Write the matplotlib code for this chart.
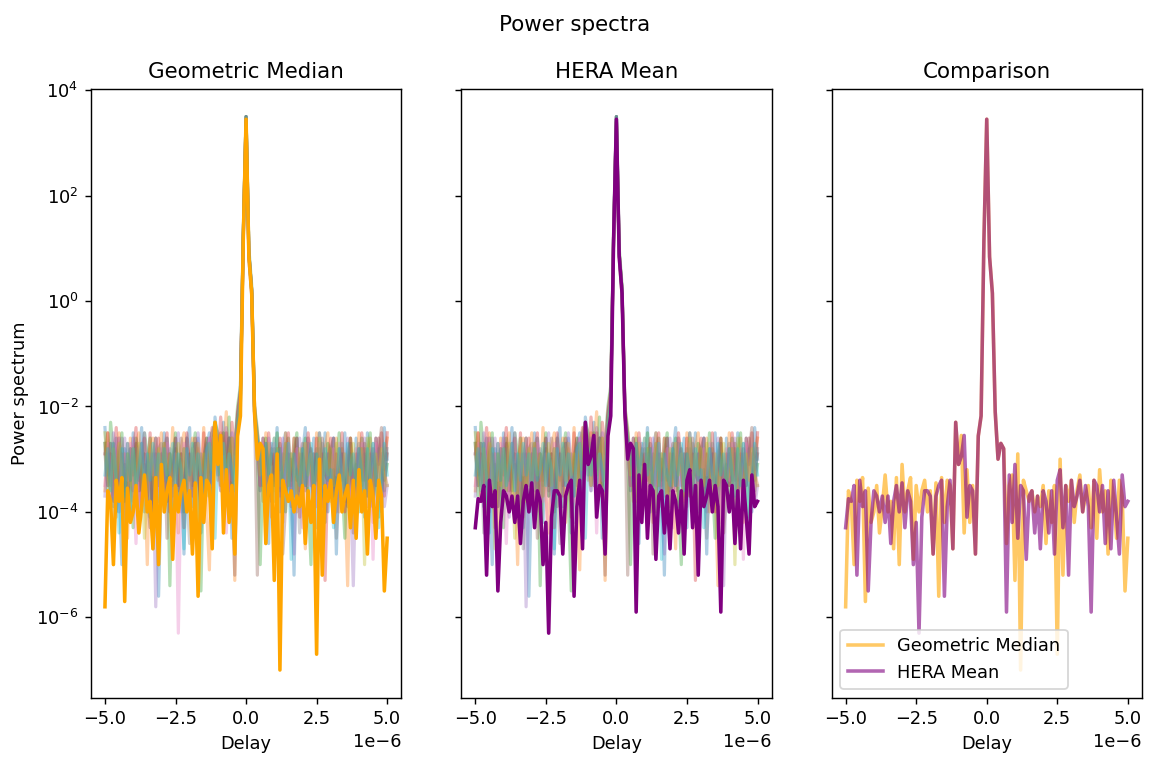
import numpy as np
import matplotlib
matplotlib.use("Agg")
import matplotlib.pyplot as plt

N_DELAYS = 101
delays = np.linspace(-5e-6, 5e-6, N_DELAYS)

# log10 of the power spectrum, one value per delay bin
gm_log10 = [
    -5.8, -3.6, -3.8, -5.0, -3.4, -3.8, -3.35, -5.7, -3.55, -4.2,
    -4.0, -3.5, -4.4, -3.9, -3.3, -4.0, -3.8, -4.7, -3.35, -5.0,
    -3.1, -4.0, -3.6, -3.35, -4.9, -3.5, -4.0, -3.6, -3.4, -4.0,
    -3.6, -4.8, -3.45, -5.6, -3.35, -4.2, -3.4, -3.5, -4.7, -2.3,
    -3.1, -2.55, -4.4, -3.2, -4.2, -3.5, -4.8, -2.56, -2.18, 1.15,
    3.45, 0.84, 0.15, -2.1, -3.0, -2.7, -2.8, -4.6, -3.5, -3.3,
    -5.3, -2.9, -7.0, -3.4, -3.6, -3.8, -3.6, -4.0, -3.7, -3.9,
    -3.5, -4.6, -3.6, -4.2, -3.5, -6.7, -3.0, -5.2, -3.5, -3.8,
    -3.4, -4.2, -3.6, -3.3, -4.0, -3.7, -3.5, -4.3, -3.4, -4.5,
    -3.2, -4.0, -3.6, -4.8, -3.4, -3.7, -4.5, -3.4, -3.7, -5.5,
    -4.5,
]

hera_log10 = [
    -4.3, -3.75, -3.8, -3.5, -5.2, -3.4, -3.9, -3.6, -5.5, -4.2,
    -3.6, -3.7, -4.0, -3.7, -4.2, -3.7, -4.6, -3.8, -3.5, -4.0,
    -3.45, -4.3, -3.6, -3.8, -5.0, -4.2, -6.3, -4.1, -3.6, -3.6,
    -3.7, -4.8, -3.7, -3.5, -3.4, -5.6, -3.9, -3.4, -4.7, -2.3,
    -3.1, -2.95, -2.55, -4.1, -3.5, -3.6, -4.8, -2.56, -2.18, 1.15,
    3.45, 0.84, 0.15, -2.1, -3.0, -2.7, -2.8, -5.9, -3.3, -4.2,
    -3.1, -4.5, -3.5, -3.6, -4.9, -3.7, -3.6, -4.4, -3.7, -4.7,
    -3.6, -3.8, -4.4, -3.6, -4.8, -3.4, -3.2, -4.3, -3.5, -5.2,
    -3.4, -3.9, -3.7, -3.4, -4.0, -3.5, -3.9, -5.9, -3.4, -3.5,
    -4.0, -3.5, -4.6, -3.6, -4.7, -3.4, -4.1, -4.8, -3.3, -3.9,
    -3.8,
]

# individual baseline spectra
bl0 = [
    -2.4, -3.3, -2.7, -3.9, -2.6, -3.5, -5.0, -2.8, -3.4, -4.1,
    -2.5, -3.6, -3.0, -2.4, -4.0, -3.1, -2.6, -4.3, -2.9, -5.6,
    -3.3, -2.5, -3.8, -2.9, -4.2, -2.6, -3.5, -3.0, -4.8, -2.7,
    -2.4, -3.9, -3.1, -2.6, -4.4, -3.3, -2.8, -2.5, -3.9, -2.2,
    -2.7, -3.6, -2.3, -3.8, -2.6, -4.5, -3.0, -2.2, -1.7, 1.2,
    3.5, 0.9, 0.2, -2.0, -2.5, -3.6, -2.6, -3.1, -4.6, -2.7,
    -3.5, -2.4, -4.0, -2.8, -2.5, -3.8, -3.0, -5.2, -2.6, -3.6,
    -2.9, -2.4, -3.9, -3.3, -2.6, -4.3, -2.8, -3.6, -2.5, -4.0,
    -3.0, -2.6, -4.8, -2.8, -3.4, -2.5, -3.9, -2.9, -3.7, -2.6,
    -3.5, -2.8, -4.1, -2.5, -3.1, -3.9, -2.6, -3.4, -4.0, -2.4,
    -3.0,
]
bl1 = [
    -3.6, -2.5, -3.2, -2.7, -4.1, -2.5, -3.6, -2.9, -4.5, -2.6,
    -3.8, -2.8, -2.5, -3.9, -3.1, -5.0, -2.8, -2.6, -3.6, -3.1,
    -2.5, -4.0, -2.9, -3.4, -2.4, -3.7, -4.4, -2.8, -2.5, -3.6,
    -3.0, -2.6, -4.2, -2.8, -3.4, -2.4, -3.9, -5.1, -2.8, -2.3,
    -3.4, -2.5, -2.9, -2.1, -3.6, -2.6, -5.3, -2.2, -1.8, 1.1,
    3.4, 0.8, 0.1, -2.2, -2.5, -2.9, -3.8, -2.5, -3.2, -4.1,
    -2.6, -3.4, -2.8, -4.2, -2.5, -3.1, -3.6, -2.6, -4.0, -2.9,
    -3.3, -4.7, -2.6, -2.9, -3.8, -2.5, -3.1, -3.9, -2.8, -2.5,
    -3.8, -3.1, -2.6, -4.0, -2.8, -3.5, -5.4, -2.6, -3.2, -3.4,
    -2.5, -3.9, -2.8, -3.4, -2.6, -4.2, -3.1, -2.6, -3.6, -2.9,
    -2.6,
]
bl2 = [
    -2.7, -3.7, -2.3, -2.9, -4.0, -3.1, -2.5, -3.8, -2.9, -3.4,
    -4.3, -2.6, -3.1, -3.6, -2.5, -2.9, -4.1, -3.3, -2.6, -3.8,
    -2.9, -3.4, -2.6, -5.4, -3.1, -2.5, -3.7, -2.9, -4.0, -2.6,
    -3.4, -2.9, -2.5, -3.8, -5.5, -3.1, -2.6, -3.7, -2.5, -2.3,
    -2.5, -3.0, -2.5, -3.3, -2.2, -3.5, -2.7, -2.0, -1.6, 1.3,
    3.5, 1.0, 0.3, -2.1, -2.9, -5.0, -3.1, -2.6, -3.7, -2.9,
    -3.8, -2.5, -3.2, -2.9, -4.0, -2.6, -3.4, -2.9, -2.5, -3.9,
    -3.1, -2.6, -3.7, -5.0, -2.9, -3.4, -2.5, -3.2, -4.2, -2.7,
    -2.9, -3.9, -3.1, -2.5, -3.4, -4.5, -2.9, -2.6, -3.7, -3.1,
    -4.0, -2.6, -3.4, -2.9, -2.5, -3.8, -3.1, -4.1, -2.9, -3.4,
    -3.1,
]
bl3 = [
    -2.9, -2.5, -3.8, -3.1, -2.4, -3.6, -2.9, -4.3, -2.7, -3.4,
    -2.9, -2.4, -4.0, -3.1, -2.6, -3.7, -2.5, -4.1, -2.9, -2.6,
    -3.7, -2.9, -2.5, -4.0, -3.1, -2.6, -3.5, -2.9, -4.3, -2.5,
    -3.1, -3.7, -2.6, -2.9, -4.1, -2.5, -3.5, -2.9, -2.4, -2.6,
    -3.1, -2.2, -2.9, -2.5, -3.7, -2.3, -2.9, -2.1, -1.7, 1.2,
    3.5, 0.9, 0.2, -2.0, -2.7, -3.5, -2.6, -3.8, -2.5, -3.1,
    -2.9, -4.0, -2.6, -3.5, -2.9, -2.5, -3.9, -3.1, -2.6, -4.1,
    -2.9, -3.5, -2.5, -3.1, -4.0, -2.6, -3.7, -2.9, -5.3, -3.1,
    -2.6, -3.7, -2.9, -3.5, -2.5, -4.0, -3.1, -2.6, -3.8, -2.9,
    -3.5, -2.5, -3.1, -3.9, -2.9, -3.7, -2.6, -3.1, -2.5, -3.7,
    -2.5,
]
bl4 = [
    -3.7, -2.9, -3.5, -2.5, -3.1, -4.0, -2.9, -2.6, -3.9, -3.1,
    -2.6, -3.5, -4.1, -2.9, -2.5, -3.7, -3.1, -2.9, -5.8, -3.5,
    -2.9, -3.9, -2.6, -3.1, -3.7, -2.9, -2.5, -4.0, -3.5, -2.6,
    -3.9, -2.9, -3.5, -2.5, -3.1, -4.2, -2.9, -2.6, -3.7, -2.5,
    -2.9, -2.6, -3.5, -2.4, -2.9, -2.5, -3.1, -2.2, -1.8, 1.1,
    3.4, 0.8, 0.1, -2.1, -2.5, -3.1, -2.9, -3.9, -2.6, -3.5,
    -3.1, -2.9, -3.7, -2.6, -3.5, -2.9, -4.0, -4.8, -2.9, -2.6,
    -3.7, -3.1, -2.6, -3.5, -2.9, -3.9, -2.5, -3.1, -3.7, -2.9,
    -3.5, -2.6, -4.0, -3.1, -2.9, -3.7, -2.6, -3.5, -5.4, -3.1,
    -2.9, -3.7, -2.6, -3.1, -3.9, -2.9, -3.5, -2.6, -3.1, -3.9,
    -3.5,
]
bl5 = [
    -2.7, -3.5, -2.9, -3.8, -3.0, -2.6, -3.4, -3.1, -3.9, -2.8,
    -3.3, -2.7, -3.6, -3.2, -2.9, -3.7, -4.3, -3.0, -2.6, -3.5,
    -3.1, -2.7, -4.5, -2.9, -3.4, -2.8, -3.6, -2.6, -3.2, -3.9,
    -2.9, -3.5, -2.7, -3.3, -3.8, -3.0, -2.6, -3.6, -3.1, -2.5,
    -3.0, -3.5, -2.7, -3.2, -2.6, -3.4, -5.2, -2.3, -1.9, 1.2,
    3.5, 0.9, 0.2, -2.0, -5.2, -2.8, -3.5, -2.7, -3.3, -3.8,
    -2.8, -3.4, -2.7, -4.8, -3.9, -2.9, -3.5, -2.6, -3.4, -3.1,
    -2.7, -3.6, -3.2, -2.8, -3.5, -2.9, -3.7, -2.6, -3.3, -3.4,
    -2.8, -2.6, -3.6, -3.2, -2.9, -3.8, -3.3, -2.7, -4.4, -3.6,
    -2.8, -3.4, -2.7, -3.7, -3.1, -2.8, -3.5, -2.9, -2.4, -3.2,
    -2.9,
]
bl6 = [
    -3.5, -2.7, -3.2, -3.7, -2.8, -2.6, -3.6, -2.9, -3.4, -2.7,
    -3.3, -4.6, -2.8, -2.7, -3.4, -3.9, -2.9, -3.3, -2.6, -3.6,
    -2.8, -3.4, -2.7, -3.2, -3.8, -2.9, -6.3, -3.3, -2.7, -3.2,
    -3.7, -2.8, -3.4, -2.7, -3.2, -3.8, -2.9, -2.6, -3.5, -2.9,
    -3.3, -3.6, -2.7, -4.4, -2.9, -3.4, -2.8, -2.3, -1.8, 1.2,
    3.4, 0.9, 0.2, -2.2, -2.8, -3.5, -2.7, -3.3, -3.6, -2.8,
    -2.7, -3.6, -3.2, -2.8, -3.5, -2.7, -3.8, -3.2, -2.8, -3.6,
    -4.3, -2.7, -3.5, -2.9, -3.8, -3.2, -2.7, -3.6, -2.9, -3.4,
    -3.7, -2.8, -3.3, -2.7, -3.6, -2.9, -3.4, -4.2, -3.1, -2.8,
    -3.4, -2.7, -3.7, -3.2, -2.8, -4.9, -2.7, -3.4, -2.9, -3.2,
    -3.5,
]
bl7 = [
    -2.9, -3.5, -2.7, -4.4, -3.2, -2.9, -2.6, -3.6, -3.2, -2.8,
    -3.6, -2.8, -3.4, -2.7, -3.2, -3.8, -2.9, -4.7, -3.4, -2.8,
    -2.7, -3.6, -3.2, -2.8, -3.5, -2.7, -3.7, -3.1, -2.8, -3.6,
    -4.6, -3.4, -2.7, -3.3, -2.9, -3.7, -2.7, -3.4, -2.9, -2.6,
    -3.3, -2.7, -3.5, -2.9, -2.6, -3.4, -2.9, -2.4, -2.0, 1.2,
    3.5, 0.9, 0.2, -2.1, -2.7, -3.5, -2.9, -3.7, -3.2, -2.8,
    -3.4, -2.8, -3.6, -3.2, -2.7, -3.5, -2.9, -3.7, -3.2, -4.4,
    -2.8, -3.5, -2.7, -3.3, -3.7, -2.8, -3.4, -2.7, -3.3, -2.9,
    -3.6, -3.2, -4.5, -3.5, -2.7, -3.3, -3.8, -2.9, -3.4, -3.1,
    -2.7, -3.5, -2.9, -3.7, -3.2, -2.7, -3.5, -2.8, -3.2, -3.6,
    -2.8,
]
bl8 = [
    -2.5, -3.3, -3.6, -2.8, -3.4, -2.7, -3.2, -4.7, -2.9, -3.5,
    -2.8, -3.6, -2.7, -3.2, -4.5, -3.5, -2.6, -3.3, -3.8, -2.8,
    -3.4, -2.7, -3.3, -2.9, -3.7, -3.2, -2.7, -3.5, -2.8, -3.3,
    -3.7, -2.8, -3.4, -2.7, -3.3, -2.9, -3.7, -2.7, -3.2, -2.5,
    -2.8, -3.5, -2.7, -3.3, -2.9, -2.6, -3.4, -2.3, -1.9, 1.2,
    3.4, 0.9, 0.2, -2.0, -2.4, -3.3, -2.8, -4.6, -2.7, -3.3,
    -3.6, -2.8, -3.5, -3.2, -2.7, -3.5, -2.9, -3.2, -3.7, -2.8,
    -3.5, -2.7, -3.3, -2.9, -3.7, -3.2, -2.6, -3.5, -2.9, -3.3,
    -2.8, -3.5, -2.7, -3.3, -3.7, -2.9, -3.5, -3.2, -2.7, -3.4,
    -3.3, -2.8, -5.0, -2.6, -3.3, -3.7, -2.9, -3.4, -2.8, -3.3,
    -3.5,
]
bl9 = [
    -3.3, -2.8, -3.6, -2.7, -3.4, -4.4, -2.8, -3.7, -2.7, -3.4,
    -2.8, -3.5, -3.2, -2.7, -3.6, -2.9, -3.4, -2.7, -3.3, -2.9,
    -3.6, -2.8, -3.4, -3.2, -2.7, -3.5, -2.9, -3.2, -4.7, -2.8,
    -3.3, -2.7, -3.5, -2.9, -3.3, -3.7, -2.8, -2.7, -3.4, -4.5,
    -2.8, -3.3, -2.7, -3.5, -2.9, -3.2, -3.6, -2.3, -1.9, 1.2,
    3.5, 0.9, 0.2, -2.1, -2.6, -2.8, -3.5, -2.7, -3.3, -2.9,
    -2.6, -3.3, -2.8, -3.6, -3.2, -2.7, -4.9, -2.9, -3.3, -3.5,
    -2.8, -3.5, -3.2, -2.7, -3.6, -2.9, -3.3, -3.7, -2.8, -3.4,
    -3.2, -4.3, -3.5, -2.8, -3.3, -3.6, -2.7, -3.3, -2.9, -3.5,
    -2.8, -3.3, -3.7, -2.8, -3.5, -2.7, -3.3, -4.3, -3.5, -2.7,
    -3.3,
]
baselines = [bl0, bl1, bl2, bl3, bl4, bl5, bl6, bl7, bl8, bl9]

for arr in [gm_log10, hera_log10] + baselines:
    assert len(arr) == N_DELAYS

gm_ps = 10.0 ** np.array(gm_log10)
hera_ps = 10.0 ** np.array(hera_log10)
bl_ps = [10.0 ** np.array(b) for b in baselines]

fig, axes = plt.subplots(1, 3, figsize=(1150 / 128, 760 / 128), dpi=128, sharey=True)
fig.subplots_adjust(left=0.079, right=0.993, top=0.883, bottom=0.082, wspace=0.193)
fig.suptitle("Power spectra")

ax = axes[0]
for b in bl_ps:
    ax.plot(delays, b, lw=1.8, alpha=0.35)
ax.plot(delays, gm_ps, color="orange", lw=2)
ax.set_yscale("log")
ax.set_title("Geometric Median")
ax.set_xlabel("Delay")
ax.set_ylabel("Power spectrum")

ax = axes[1]
for b in bl_ps:
    ax.plot(delays, b, lw=1.8, alpha=0.35)
ax.plot(delays, hera_ps, color="purple", lw=2)
ax.set_title("HERA Mean")
ax.set_xlabel("Delay")

ax = axes[2]
ax.plot(delays, gm_ps, color="orange", lw=2, alpha=0.6, label="Geometric Median")
ax.plot(delays, hera_ps, color="purple", lw=2, alpha=0.6, label="HERA Mean")
ax.set_title("Comparison")
ax.set_xlabel("Delay")
ax.legend(loc="lower left")

fig.savefig("out.png")
